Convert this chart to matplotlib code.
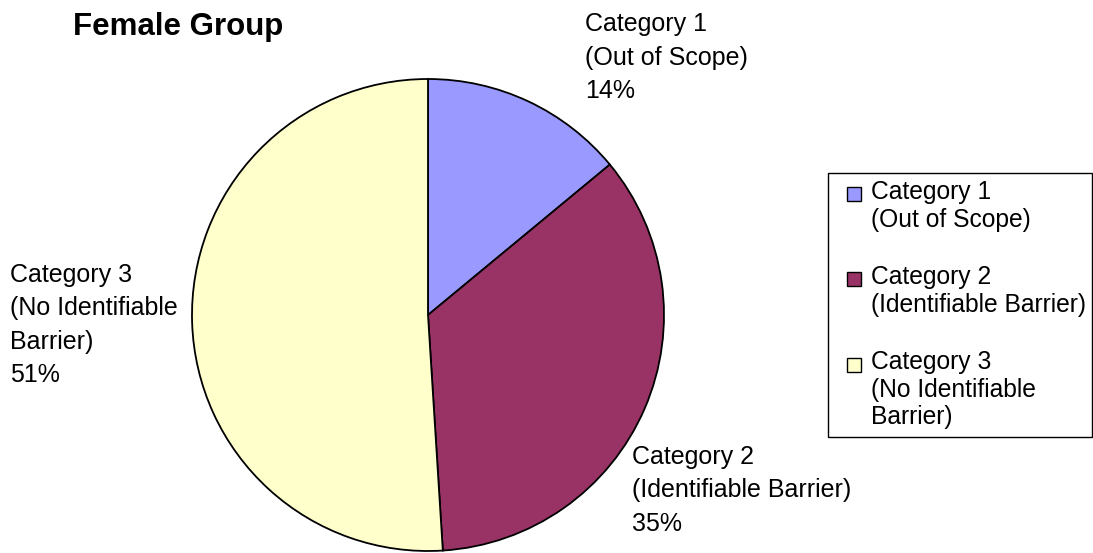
import matplotlib
matplotlib.use("Agg")
from matplotlib import pyplot as plt
from matplotlib.patches import Rectangle
from matplotlib.legend_handler import HandlerPatch

plt.rcParams['font.family'] = ['Liberation Sans', 'DejaVu Sans']

# data
categories = ["Category 1\n(Out of Scope)",
              "Category 2\n(Identifiable Barrier)",
              "Category 3\n(No Identifiable\nBarrier)"]
legend_labels = ["Category 1\n(Out of Scope)",
                 "Category 2\n(Identifiable Barrier)",
                 "Category 3\n(No Identifiable\nBarrier)"]
shares = [14, 35, 51]
colors = ["#9999FF", "#993366", "#FFFFCC"]
title = "Female Group"

W, H = 1093, 553
fig = plt.figure(figsize=(W / 100, H / 100), dpi=100)

# pie axes: centre (428, 315) px, radius 236 px
cx, cy, r = 428, 315, 236
ax = fig.add_axes([(cx - r) / W, (H - cy - r) / H, 2 * r / W, 2 * r / H])
wedges, _ = ax.pie(shares, colors=colors, startangle=90, counterclock=False,
                   wedgeprops=dict(edgecolor="black", linewidth=1.3))
ax.set_xlim(-1, 1)
ax.set_ylim(-1, 1)
ax.set_aspect("equal")
ax.axis("off")

fs = 18
fs_leg = 17.7
ls = 1.5        # data labels
ls_leg = 1.18   # legend entries
# data labels (Excel-style placement)
label_pos = [(585, 12), (632, 445), (10, 263)]
for (lx, ly), cat, val in zip(label_pos, categories, shares):
    fig.text(lx / W, 1 - ly / H, f"{cat}\n{val}%", fontsize=fs,
             ha="left", va="top", linespacing=ls)

fig.text(73 / W, 1 - 12 / H, title, fontsize=22.5, fontweight="bold",
         ha="left", va="top")


def make_handler(nlines):
    # small square at the right end of the handle box, level with first line
    def patch_func(legend, orig_handle, xdescent, ydescent, width, height, fontsize):
        shift = (nlines - 1) / 2 * fontsize * 0.87 * ls_leg
        return Rectangle((-xdescent + width - height, -ydescent + shift), height, height)
    return HandlerPatch(patch_func=patch_func)


hmap = {w: make_handler(lab.count("\n") + 1) for w, lab in zip(wedges, legend_labels)}
leg = fig.legend(wedges, legend_labels, handler_map=hmap,
                 loc="upper left", bbox_to_anchor=(828 / W, 1 - 173 / H),
                 fontsize=fs_leg, frameon=False,
                 handlelength=1.04, handleheight=0.49,
                 handletextpad=0.41, labelspacing=1.36, borderpad=0.3,
                 borderaxespad=0)
for t in leg.get_texts():
    t.set_linespacing(ls_leg)
for h in leg.legend_handles:
    h.set_edgecolor("black")
    h.set_linewidth(1.0)

# legend frame
fig.patches.append(Rectangle((828 / W, 1 - 437 / H), (1092 - 828) / W, (437 - 173) / H,
                             transform=fig.transFigure, facecolor="none",
                             edgecolor="black", linewidth=1.0, zorder=0))

plt.savefig("out.png", dpi=100)
